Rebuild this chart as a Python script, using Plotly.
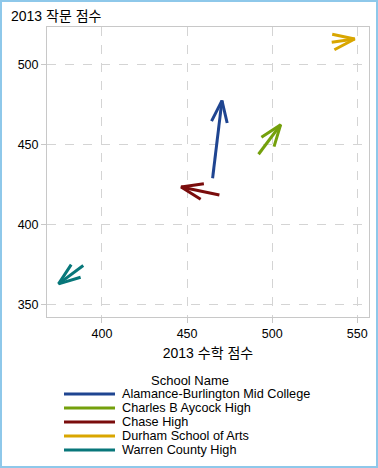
import math
import plotly.graph_objects as go

# ---- data ----
schools = ["Alamance-Burlington Mid College", "Charles B Aycock High", "Chase High",
           "Durham School of Arts", "Warren County High"]
x_start = [465.0, 492.0, 469.0, 535.0, 389.0]
y_start = [429.0, 444.0, 418.5, 514.0, 374.5]
x_end = [470.5, 505.0, 446.5, 548.5, 374.5]
y_end = [477.5, 462.5, 423.5, 516.0, 363.0]
x_ticks = [400, 450, 500, 550]
y_ticks = [350, 400, 450, 500]
x_title = "2013 수학 점수"
y_title = "2013 작문 점수"
legend_title = "School Name"

colors = ["#1f4591", "#74a00c", "#7a0c0c", "#d9a600", "#08777a"]

# ---- layout geometry ----
W, H = 378, 468
L, T, PW, PH = 47, 27, 322, 290
XR = [367.7, 556.9]
YR = [342.3, 523.5]
FONT = "Liberation Sans, Arial, Noto Sans CJK KR, sans-serif"

px_x = PW / (XR[1] - XR[0])
px_y = PH / (YR[1] - YR[0])


def barbs(x0, y0, x1, y1, length=23.0, ang=20.0):
    dx = (x1 - x0) * px_x
    dy = (y1 - y0) * px_y
    n = math.hypot(dx, dy)
    ux, uy = -dx / n, -dy / n
    out = []
    for s in (1, -1):
        a = math.radians(ang * s)
        rx = ux * math.cos(a) - uy * math.sin(a)
        ry = ux * math.sin(a) + uy * math.cos(a)
        out.append((x1 + rx * length / px_x, y1 + ry * length / px_y))
    return out


fig = go.Figure()
for i, name in enumerate(schools):
    (bx1, by1), (bx2, by2) = barbs(x_start[i], y_start[i], x_end[i], y_end[i])
    fig.add_trace(go.Scatter(
        x=[x_start[i], x_end[i], None, bx1, x_end[i], bx2],
        y=[y_start[i], y_end[i], None, by1, y_end[i], by2],
        mode="lines", name=name, showlegend=False,
        line=dict(color=colors[i], width=3),
        hoverinfo="skip",
    ))


def xp(px):
    return (px - L) / PW


def yp(py):
    return 1 - (py - T) / PH


shapes = [
    dict(type="rect", xref="paper", yref="paper",
         x0=xp(1), x1=xp(377), y0=yp(1), y1=yp(467),
         line=dict(color="#8ec8ea", width=2), layer="below"),
]
annotations = [
    dict(text=y_title, xref="paper", yref="paper", x=xp(9), y=yp(16),
         xanchor="left", yanchor="middle", showarrow=False,
         font=dict(size=14, color="#000000", family=FONT)),
    dict(text=legend_title, xref="paper", yref="paper", x=xp(190), y=yp(380),
         xanchor="center", yanchor="middle", showarrow=False,
         font=dict(size=13, color="#000000", family=FONT)),
]
for i, name in enumerate(schools):
    ry = 394 + 14 * i
    shapes.append(dict(type="line", xref="paper", yref="paper",
                       x0=xp(64), x1=xp(115), y0=yp(ry), y1=yp(ry),
                       line=dict(color=colors[i], width=3)))
    annotations.append(dict(text=name, xref="paper", yref="paper", x=xp(120), y=yp(ry),
                            xanchor="left", yanchor="middle", showarrow=False,
                            font=dict(size=12.7, color="#000000", family=FONT)))

axis_common = dict(
    showline=True, mirror=True, linecolor="#c8c8c8", linewidth=1,
    showgrid=True, gridcolor="#d4d4d4", griddash="dash", gridwidth=1,
    ticks="outside", ticklen=5, tickcolor="#c8c8c8",
    zeroline=False, tickfont=dict(size=12.5, color="#000000", family=FONT),
)

fig.update_layout(
    width=W, height=H,
    margin=dict(l=L, r=W - L - PW, t=T, b=H - T - PH),
    paper_bgcolor="white", plot_bgcolor="white",
    showlegend=False,
    xaxis=dict(range=XR, tickvals=x_ticks, title=dict(text=x_title, standoff=8,
               font=dict(size=14, color="#000000", family=FONT)), **axis_common),
    yaxis=dict(range=YR, tickvals=y_ticks, **axis_common),
    shapes=shapes, annotations=annotations,
)

fig.write_html("out.html", config={"displayModeBar": False},
               post_script="document.body.style.margin='0';")
